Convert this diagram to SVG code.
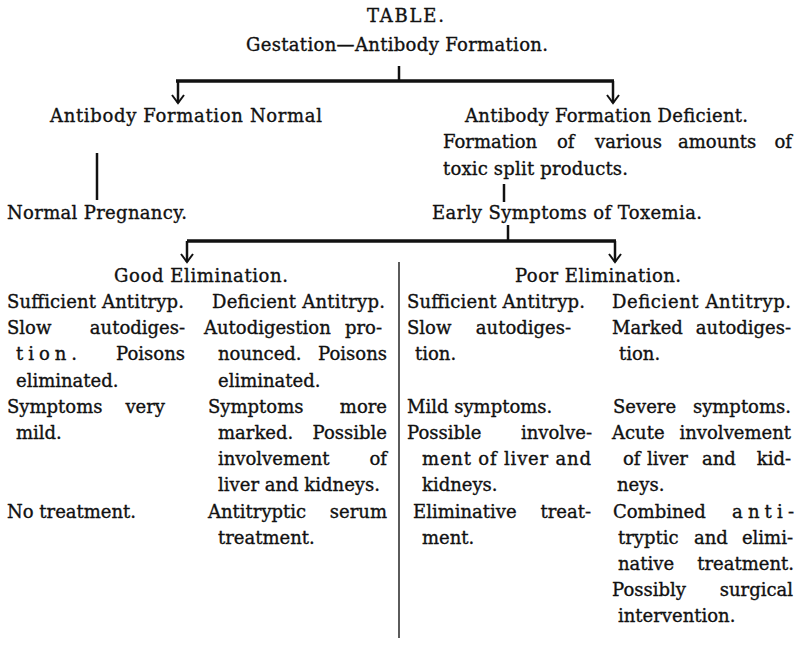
<svg xmlns="http://www.w3.org/2000/svg" width="797" height="649" viewBox="0 0 797 649">
<style>
.t{font-family:"DejaVu Serif","Liberation Serif",serif;font-size:18px;fill:#111;stroke:#111;stroke-width:0.35}
.e{text-anchor:end}
.ln{stroke:#111;stroke-width:2.5;fill:none}
.bar{stroke:#111;stroke-width:3.5;fill:none}
.div{stroke:#333;stroke-width:1.6;fill:none}
</style>
<defs>
<marker id="ah" markerUnits="userSpaceOnUse" orient="auto" overflow="visible" refX="0" refY="0" markerWidth="1" markerHeight="1">
<path d="M-8,-6 L0,0 L-8,6" fill="none" stroke="#111" stroke-width="2"/>
</marker>
</defs>
<rect width="797" height="649" fill="#fff"/>

<g id="connectors">
<path class="ln" d="M399,66 V81"/>
<path class="bar" d="M176,81 H614"/>
<path class="ln" d="M178,81 V103" marker-end="url(#ah)"/>
<path class="ln" d="M613,81 V103" marker-end="url(#ah)"/>
<path class="ln" d="M97,153 V200"/>
<path class="ln" d="M504,184 V202"/>
<path class="ln" d="M508,225 V241"/>
<path class="bar" d="M187,241 H616"/>
<path class="ln" d="M187,241 V262" marker-end="url(#ah)"/>
<path class="ln" d="M615,241 V262" marker-end="url(#ah)"/>
<path class="div" d="M399,262 V638"/>
</g>

<g id="title"><text class="t" x="367" y="22" textLength="77">TABLE.</text></g>
<g id="gestation"><text class="t" x="246" y="51" textLength="302">Gestation—Antibody Formation.</text></g>
<g id="ab-normal"><text class="t" x="50" y="122" textLength="272">Antibody Formation Normal</text></g>
<g id="ab-deficient">
<text class="t" x="465" y="122" textLength="283">Antibody Formation Deficient.</text>
<text class="t" x="443" y="148">Formation</text>
<text class="t" x="557" y="148">of</text>
<text class="t" x="595" y="148">various</text>
<text class="t" x="678" y="148">amounts</text>
<text class="t e" x="792" y="148">of</text>
<text class="t" x="443" y="175" textLength="185">toxic split products.</text>
</g>
<g id="normal-pregnancy"><text class="t" x="7" y="219" textLength="180">Normal Pregnancy.</text></g>
<g id="early-symptoms"><text class="t" x="432" y="219" textLength="270">Early Symptoms of Toxemia.</text></g>

<g id="good-elimination"><text class="t" x="114" y="282" textLength="174">Good Elimination.</text></g>
<g id="good-sufficient">
<text class="t" x="7" y="308" textLength="177">Sufficient Antitryp.</text>
<text class="t" x="7" y="334.2">Slow</text><text class="t e" x="185" y="334.2">autodiges-</text>
<text class="t" x="16" y="360.4" textLength="61">tion.</text><text class="t e" x="185" y="360.4">Poisons</text>
<text class="t" x="16" y="386.6">eliminated.</text>
<text class="t" x="7" y="412.8">Symptoms</text><text class="t e" x="165" y="412.8">very</text>
<text class="t" x="16" y="439">mild.</text>
<text class="t" x="7" y="517.6">No treatment.</text>
</g>
<g id="good-deficient">
<text class="t" x="212" y="308" textLength="173">Deficient Antitryp.</text>
<text class="t" x="204" y="334.2">Autodigestion</text><text class="t e" x="382" y="334.2">pro-</text>
<text class="t" x="218" y="360.4">nounced.</text><text class="t e" x="387" y="360.4">Poisons</text>
<text class="t" x="218" y="386.6">eliminated.</text>
<text class="t" x="208" y="412.8">Symptoms</text><text class="t e" x="387" y="412.8">more</text>
<text class="t" x="218" y="439">marked.</text><text class="t e" x="387" y="439">Possible</text>
<text class="t" x="218" y="465.2">involvement</text><text class="t e" x="387" y="465.2">of</text>
<text class="t" x="218" y="491.4" textLength="162">liver and kidneys.</text>
<text class="t" x="208" y="517.6">Antitryptic</text><text class="t e" x="387" y="517.6">serum</text>
<text class="t" x="218" y="543.8">treatment.</text>
</g>

<g id="poor-elimination"><text class="t" x="515" y="282" textLength="166">Poor Elimination.</text></g>
<g id="poor-sufficient">
<text class="t" x="407" y="308" textLength="178">Sufficient Antitryp.</text>
<text class="t" x="407" y="334.2">Slow</text><text class="t e" x="571" y="334.2">autodiges-</text>
<text class="t" x="415" y="360.4">tion.</text>
<text class="t" x="407" y="412.8">Mild symptoms.</text>
<text class="t" x="407" y="439">Possible</text><text class="t e" x="592" y="439">involve-</text>
<text class="t" x="422" y="465.2" textLength="169">ment of liver and</text>
<text class="t" x="422" y="491.4">kidneys.</text>
<text class="t" x="413" y="517.6">Eliminative</text><text class="t e" x="591" y="517.6">treat-</text>
<text class="t" x="422" y="543.8">ment.</text>
</g>
<g id="poor-deficient">
<text class="t" x="612" y="308" textLength="179">Deficient Antitryp.</text>
<text class="t" x="612" y="334.2">Marked</text><text class="t e" x="791" y="334.2">autodiges-</text>
<text class="t" x="619" y="360.4">tion.</text>
<text class="t" x="613" y="412.8">Severe</text><text class="t e" x="791" y="412.8">symptoms.</text>
<text class="t" x="612" y="439">Acute</text><text class="t e" x="791" y="439">involvement</text>
<text class="t" x="623" y="465.2">of</text><text class="t" x="647" y="465.2">liver</text><text class="t" x="702" y="465.2">and</text><text class="t e" x="791" y="465.2">kid-</text>
<text class="t" x="617" y="491.4">neys.</text>
<text class="t" x="613" y="517.6">Combined</text><text class="t" x="732" y="517.6" textLength="62">anti-</text>
<text class="t" x="618" y="543.8">tryptic</text><text class="t" x="694" y="543.8">and</text><text class="t e" x="793" y="543.8">elimi-</text>
<text class="t" x="618" y="570">native</text><text class="t e" x="794" y="570">treatment.</text>
<text class="t" x="612" y="596.2">Possibly</text><text class="t e" x="793" y="596.2">surgical</text>
<text class="t" x="618" y="622.4">intervention.</text>
</g>
</svg>
